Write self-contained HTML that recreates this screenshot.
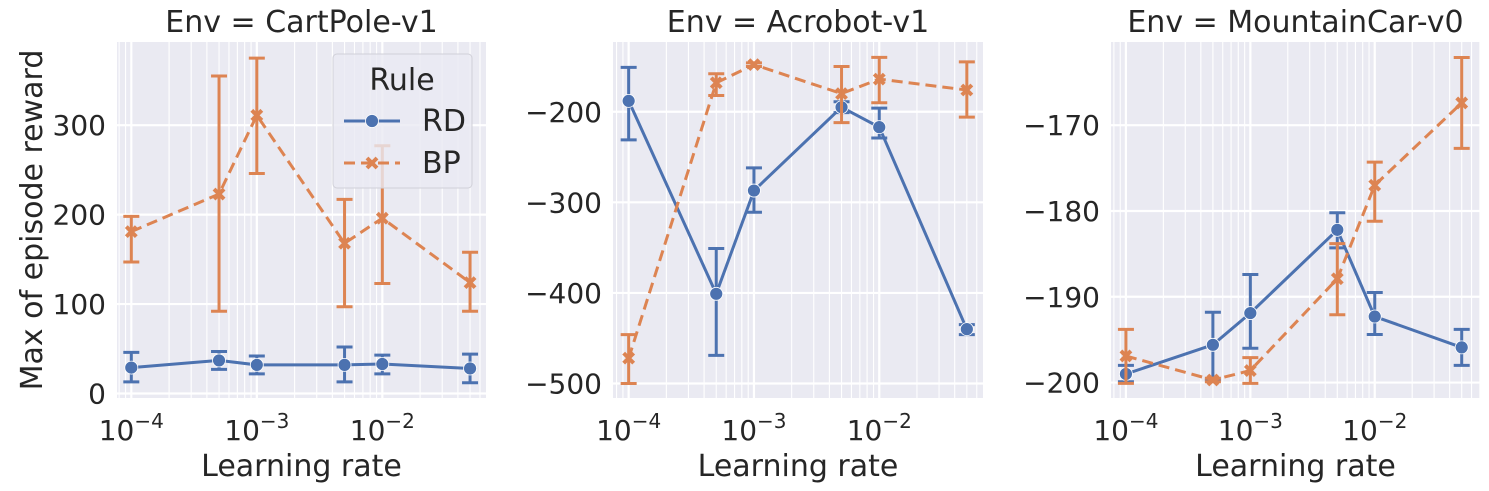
<!DOCTYPE html>
<html><head><meta charset="utf-8">
<style>
html,body{margin:0;padding:0;background:#fff;}
svg{display:block;font-family:"DejaVu Sans","Liberation Sans",sans-serif;}
</style></head>
<body>
<svg id="fig" width="1489" height="491" viewBox="0 0 1489 491" xmlns="http://www.w3.org/2000/svg"></svg>
<script>
// ---------- data ----------
const learningRates = [1e-4, 5e-4, 1e-3, 5e-3, 1e-2, 5e-2];
const envNames = ["CartPole-v1", "Acrobot-v1", "MountainCar-v0"];
const cartRD = [29, 37, 32, 32, 33, 28];
const cartRDLo = [13, 27, 22, 13, 22, 12];
const cartRDHi = [46, 47, 42, 52, 43, 44];
const cartBP = [181, 223, 311, 168, 196, 124];
const cartBPLo = [147, 92, 246, 97, 123, 92];
const cartBPHi = [198, 355, 375, 217, 277, 158];
const acroRD = [-188, -401, -287, -195, -217, -440];
const acroRDLo = [-231, -469, -311, -201, -229, -446];
const acroRDHi = [-151, -351, -262, -189, -196, -435];
const acroBP = [-472, -168, -148, -180, -164, -176];
const acroBPLo = [-500, -182, -150, -212, -190, -206];
const acroBPHi = [-446, -158, -146, -150, -140, -145];
const mcRD = [-199.0, -195.6, -191.9, -182.2, -192.3, -195.9];
const mcRDLo = [-199.9, -199.7, -196.0, -184.3, -194.4, -198.0];
const mcRDHi = [-198.0, -191.8, -187.4, -180.2, -189.5, -193.8];
const mcBP = [-196.9, -199.7, -198.6, -187.9, -177.0, -167.4];
const mcBPLo = [-200.1, -199.9, -200.1, -192.1, -181.2, -172.7];
const mcBPHi = [-193.8, -199.5, -197.1, -183.8, -174.3, -162.1];
const cartTicks = [0, 100, 200, 300];
const acroTicks = [-500, -400, -300, -200];
const mcTicks = [-200, -190, -180, -170];
const xTickExps = [-4, -3, -2];

const panels = [
  {name:"cartpole", x0:117, x1:486, xd:[-4.114,-1.174], yd:[-5,393], ticks:cartTicks,
   rd:[cartRD,cartRDLo,cartRDHi], bp:[cartBP,cartBPLo,cartBPHi]},
  {name:"acrobot", x0:613, x1:983, xd:[-4.125,-1.172], yd:[-516,-123], ticks:acroTicks,
   rd:[acroRD,acroRDLo,acroRDHi], bp:[acroBP,acroBPLo,acroBPHi]},
  {name:"mountaincar", x0:1111, x1:1480, xd:[-4.12,-1.154], yd:[-201.8,-160.3], ticks:mcTicks,
   rd:[mcRD,mcRDLo,mcRDHi], bp:[mcBP,mcBPLo,mcBPHi]}
];
const Y0 = 42, Y1 = 398;
const BLUE = "#4C72B0", ORANGE = "#DD8452";
const NS = "http://www.w3.org/2000/svg";
const svg = document.getElementById("fig");
function mk(tag, attrs, parent){
  const e = document.createElementNS(NS, tag);
  for (const k in attrs) e.setAttribute(k, attrs[k]);
  (parent||svg).appendChild(e);
  return e;
}

panels.forEach((p, pi) => {
  const g = mk("g", {});
  
  
  const sx = v => p.x0 + (Math.log10(v) - p.xd[0]) / (p.xd[1] - p.xd[0]) * (p.x1 - p.x0);
  const sy = v => Y1 - (v - p.yd[0]) / (p.yd[1] - p.yd[0]) * (Y1 - Y0);
  const bg = mk("rect", {x:p.x0, y:Y0, width:p.x1-p.x0, height:Y1-Y0, fill:"#EAEAF2"}, g);
  
  
  for (let d = -5; d <= -1; d++) {
    for (let m = 2; m <= 9; m++) {
      const lv = d + Math.log10(m);
      if (lv <= p.xd[0] || lv >= p.xd[1]) continue;
      const x = sx(Math.pow(10, lv));
      mk("line", {x1:x, x2:x, y1:Y0, y2:Y1, stroke:"#fff", "stroke-width":1.1}, g);
    }
  }
  xTickExps.forEach(e => {
    const x = sx(Math.pow(10, e));
    mk("line", {x1:x, x2:x, y1:Y0, y2:Y1, stroke:"#fff", "stroke-width":2.2}, g);
    const t = mk("text", {x:x, y:440, "font-size":28, fill:"#262626", "text-anchor":"middle"}, g);
    
    
    const a = mk("tspan", {}, t); a.textContent = "10";
    const b = mk("tspan", {dy:-12, "font-size":20}, t); b.textContent = "\u2212" + (-e);
  });
  p.ticks.forEach(v => {
    const y = sy(v);
    mk("line", {x1:p.x0, x2:p.x1, y1:y, y2:y, stroke:"#fff", "stroke-width":2.2}, g);
    const t = mk("text", {x:p.x0 - 11, y:y + 10, "font-size":28, fill:"#262626", "text-anchor":"end"}, g);
    
    
    t.textContent = v < 0 ? "\u2212" + (-v) : String(v);
  });
  const series = [["rd", BLUE, null], ["bp", ORANGE, "11,6"]];
  series.forEach(([key, col, dash]) => {
    const [vals, lo, hi] = p[key];
    const sg = mk("g", {}, g);
    
    
    const pts = learningRates.map((lr, i) => sx(lr).toFixed(1) + "," + sy(vals[i]).toFixed(1)).join(" ");
    const ln = mk("polyline", {points:pts, fill:"none", stroke:col, "stroke-width":3}, sg);
    if (dash) ln.setAttribute("stroke-dasharray", dash);
    
    
    learningRates.forEach((lr, i) => {
      const x = sx(lr), ya = sy(lo[i]), yb = sy(hi[i]);
      const eb = mk("path", {d:`M${x},${ya}V${yb}M${x-8},${ya}H${x+8}M${x-8},${yb}H${x+8}`, stroke:col, "stroke-width":3, fill:"none"}, sg);
      
      
    });
    learningRates.forEach((lr, i) => {
      const x = sx(lr), y = sy(vals[i]);
      let m;
      if (key === "rd") {
        m = mk("circle", {cx:x, cy:y, r:6.5, fill:col, stroke:"#fff", "stroke-width":0.8}, sg);
      } else {
        m = mk("path", {d:`M${x-5},${y-5}L${x+5},${y+5}M${x+5},${y-5}L${x-5},${y+5}`, stroke:col, "stroke-width":4}, sg);
      }
      
      
    });
  });
  const title = mk("text", {x:(p.x0+p.x1)/2, y:32, "font-size":30, fill:"#262626", "text-anchor":"middle"}, g);
  
  
  title.textContent = "Env = " + envNames[pi];
  const xl = mk("text", {x:(p.x0+p.x1)/2, y:476, "font-size":30, fill:"#262626", "text-anchor":"middle"}, g);
  
  
  xl.textContent = "Learning rate";
});

const yt = mk("text", {x:0, y:0, "font-size":30, fill:"#262626", "text-anchor":"middle", transform:"translate(42,220) rotate(-90)"});


yt.textContent = "Max of episode reward";

const lg = mk("g", {});


mk("rect", {x:333, y:54, width:139, height:134, rx:4, fill:"#EAEAF2", "fill-opacity":0.8, stroke:"#d0d0d8", "stroke-width":1}, lg);
const lt = mk("text", {x:402, y:90, "font-size":30, fill:"#262626", "text-anchor":"middle"}, lg);


lt.textContent = "Rule";
const e1 = mk("g", {}, lg);


mk("line", {x1:344, x2:400, y1:121, y2:121, stroke:BLUE, "stroke-width":3}, e1);
mk("circle", {cx:372, cy:121, r:6.5, fill:BLUE, stroke:"#fff", "stroke-width":0.8}, e1);
const t1 = mk("text", {x:422, y:131, "font-size":30, fill:"#262626"}, e1); t1.textContent = "RD";
const e2 = mk("g", {}, lg);


mk("line", {x1:344, x2:400, y1:163, y2:163, stroke:ORANGE, "stroke-width":3, "stroke-dasharray":"11,6"}, e2);
mk("path", {d:"M367,158L377,168M377,158L367,168", stroke:ORANGE, "stroke-width":4}, e2);
const t2 = mk("text", {x:422, y:173, "font-size":30, fill:"#262626"}, e2); t2.textContent = "BP";
</script>
</body></html>
